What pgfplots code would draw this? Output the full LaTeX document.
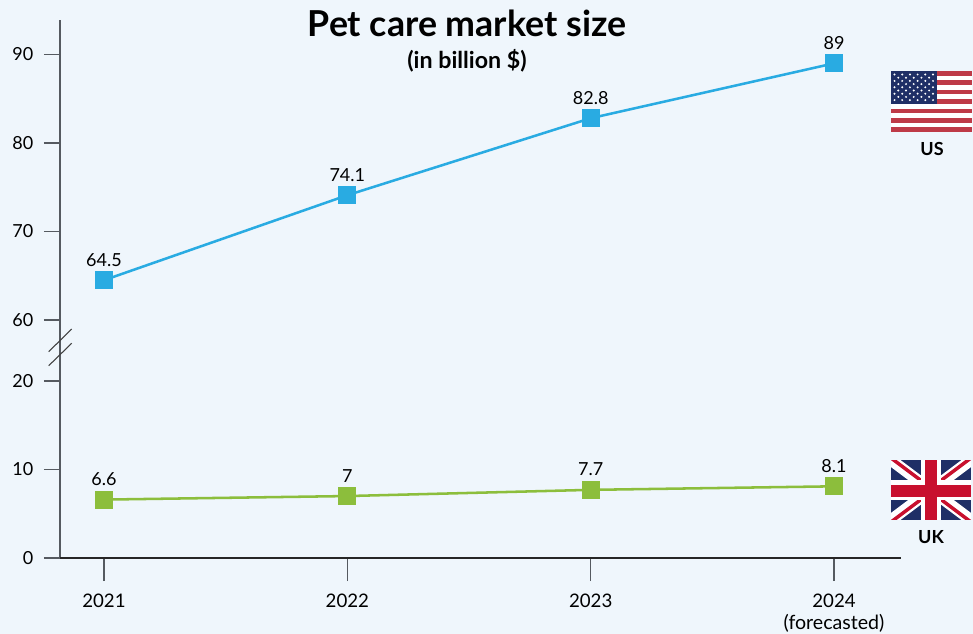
\documentclass[border=0pt]{standalone}
\usepackage{pgfplots}
\pgfplotsset{compat=1.18}
\usepackage{fontspec}
\setmainfont{Lato}
\definecolor{bgc}{HTML}{EFF6FC}
\definecolor{usblue}{HTML}{29ABE2}
\definecolor{ukgreen}{HTML}{8CBE3C}
\definecolor{axisgrey}{HTML}{555A60}
\definecolor{flagred}{HTML}{BE3A47}
\definecolor{flagnavy}{HTML}{1F2F66}
\definecolor{ukred}{HTML}{C8102E}
\pgfplotstableread{
yr val
0 64.5
1 74.1
2 82.8
3 89
}\ustable
\pgfplotstableread{
yr val
0 6.6
1 7
2 7.7
3 8.1
}\uktable
\pgfplotsset{
  basestyle/.style={
    scale only axis, width=630.75pt, xmin=-0.1808, xmax=3.2753,
    clip=false, anchor=south west,
    axis line style={-, draw=axisgrey, line width=0.95pt},
    tick style={draw=axisgrey, line width=0.95pt},
    tick align=outside,
    ticklabel style={font=\fontsize{13.5}{15}\selectfont, text=black},
    yticklabel style={xshift=-4.5pt},
    /pgf/number format/assume math mode=true,
  },
  dataline/.style={
    line width=1.9pt, mark=square*, mark size=6.4pt,
    mark options={solid, line width=0pt},
    nodes near coords, point meta=y,
    every node near coord/.append style={font=\fontsize{13.5}{15}\selectfont, text=black, anchor=south, yshift=7pt},
  },
}
\begin{document}
\begin{tikzpicture}[x=0.75pt,y=-0.75pt]
\useasboundingbox (0,0) rectangle (973,634);
\fill[bgc] (0,0) rectangle (973,634);

% lower segment of the broken scale
\begin{axis}[basestyle, at={(45pt,-418.5pt)}, height=156pt,
  ymin=0, ymax=23.503, axis x line=none, axis y line*=left,
  ytick={0,10,20}, major tick length=12pt]
\addplot[color=ukgreen, dataline] table[x=yr,y=val] {\uktable};
\end{axis}

% upper segment of the broken scale
\begin{axis}[basestyle, at={(45pt,-262.5pt)}, height=247.5pt,
  ymin=56.61, ymax=93.9, axis x line=none, axis y line*=left,
  ytick={60,70,80,90}, major tick length=12pt]
\addplot[color=usblue, dataline] table[x=yr,y=val] {\ustable};
\end{axis}

% shared year axis
\begin{axis}[basestyle, at={(45pt,-418.5pt)}, height=156pt,
  ymin=0, ymax=23.503, axis y line=none, axis x line*=bottom,
  x axis line style={draw=black!85},
  xtick={0,1,2,3}, major tick length=17.25pt,
  xticklabels={2021,2022,2023,{2024\\[2pt]{\fontsize{14.7}{15}\selectfont(forecasted)}}},
  xticklabel style={align=center, anchor=north, yshift=-6pt, font=\fontsize{14}{15}\selectfont}]
\end{axis}

% axis break marks
\draw[black!75, line width=0.8pt] (48.7,351.7) -- (71.7,329);
\draw[black!75, line width=0.8pt] (48.7,365.7) -- (71.7,343.3);

% headings
\node[font=\fontsize{26.8}{30}\selectfont\bfseries] at (467,23) {Pet care market size};
\node[font=\fontsize{17.4}{20}\selectfont\bfseries] at (467,61) {(in billion \$)};

% US flag
\begin{scope}
\fill[white] (891,71) rectangle (972,132);
\foreach \i in {0,2,...,12}
  \fill[flagred] (891,{71+\i*61/13}) rectangle (972,{71+(\i+1)*61/13});
\fill[flagnavy] (891,71) rectangle (937,104);
\foreach \r in {0,2,4,6,8}
  \foreach \c in {0,...,5}
    \fill[white] ({894.5+\c*7.7},{74.5+\r*3.2}) circle (1.1);
\foreach \r in {1,3,5,7}
  \foreach \c in {0,...,4}
    \fill[white] ({898.3+\c*7.7},{74.5+\r*3.2}) circle (1.1);
\end{scope}
\node[font=\fontsize{13.5}{15}\selectfont\bfseries] at (932,149) {US};

% UK flag
\begin{scope}
\clip (891,460) rectangle (971,519.5);
\fill[flagnavy] (891,460) rectangle (971,520);
\draw[white, line width=8.5pt] (891,460) -- (971,520) (891,520) -- (971,460);
\draw[ukred, line width=2.6pt] (891,458) -- (931,488);
\draw[ukred, line width=2.6pt] (931,492) -- (971,522);
\draw[ukred, line width=2.6pt] (891,522) -- (931,492);
\draw[ukred, line width=2.6pt] (931,488) -- (971,458);
\fill[white] (921,460) rectangle (941,520);
\fill[white] (891,480) rectangle (971,500);
\fill[ukred] (925,460) rectangle (937,520);
\fill[ukred] (891,484.5) rectangle (971,496.5);
\end{scope}
\node[font=\fontsize{13.5}{15}\selectfont\bfseries] at (931,537) {UK};
\end{tikzpicture}
\end{document}
